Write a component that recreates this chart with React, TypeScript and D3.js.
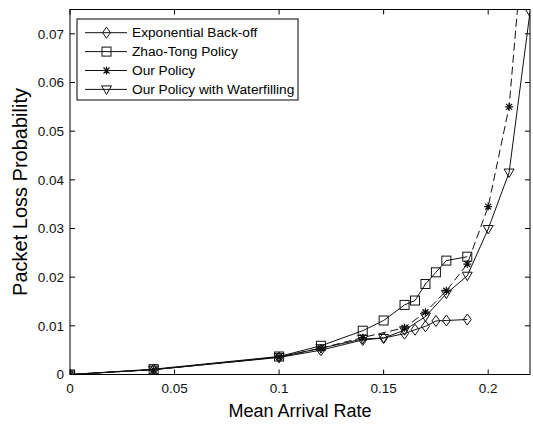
import * as d3 from "d3";

// chart size and plot box
const width = 533;
const height = 424;
const marginLeft = 70;
const marginRight = 3;
const marginTop = 9.5;
const marginBottom = 49.5;

// series
const xExp = [0, 0.04, 0.1, 0.12, 0.14, 0.15, 0.16, 0.165, 0.17, 0.175, 0.18, 0.19];
const yExp = [0, 0.001, 0.0035, 0.005, 0.0071, 0.0075, 0.0084, 0.0092, 0.0099, 0.011, 0.0111, 0.0113];

const xZhao = [0, 0.04, 0.1, 0.12, 0.14, 0.15, 0.16, 0.165, 0.17, 0.175, 0.18, 0.19];
const yZhao = [0, 0.0011, 0.0037, 0.0059, 0.009, 0.0111, 0.0143, 0.0152, 0.0186, 0.021, 0.0234, 0.0242];

const xOur = [0, 0.04, 0.1, 0.12, 0.14, 0.16, 0.17, 0.18, 0.19, 0.2, 0.21, 0.22];
const yOur = [0, 0.001, 0.0036, 0.0054, 0.0076, 0.0096, 0.0128, 0.0172, 0.0227, 0.0345, 0.055, 0.105];

const xWater = [0, 0.04, 0.1, 0.12, 0.14, 0.15, 0.16, 0.17, 0.18, 0.19, 0.2, 0.21, 0.22];
const yWater = [0, 0.001, 0.0036, 0.0054, 0.0073, 0.0075, 0.0091, 0.0119, 0.0166, 0.0203, 0.0299, 0.0415, 0.0745];

const xTicks = [0, 0.05, 0.1, 0.15, 0.2];
const xTickLabels = ["0", "0.05", "0.1", "0.15", "0.2"];
const yTicks = [0, 0.01, 0.02, 0.03, 0.04, 0.05, 0.06, 0.07];
const yTickLabels = ["0", "0.01", "0.02", "0.03", "0.04", "0.05", "0.06", "0.07"];

const legendLabels = [
  "Exponential Back-off",
  "Zhao-Tong Policy",
  "Our Policy",
  "Our Policy with Waterfilling",
];

const font = "'Liberation Sans', Arial, Helvetica, sans-serif";

const x = d3.scaleLinear().domain([0, 0.22]).range([marginLeft, width - marginRight]);
const y = d3.scaleLinear().domain([0, 0.075]).range([height - marginBottom, marginTop]);

type Kind = "diamond" | "square" | "star" | "tri";

const series: { xs: number[]; ys: number[]; kind: Kind; dash?: string }[] = [
  { xs: xExp, ys: yExp, kind: "diamond" },
  { xs: xZhao, ys: yZhao, kind: "square" },
  { xs: xOur, ys: yOur, kind: "star", dash: "8,4" },
  { xs: xWater, ys: yWater, kind: "tri" },
];

const Marker = ({ kind, cx, cy }: { kind: Kind; cx: number; cy: number }) => {
  const s = { fill: "none", stroke: "#111", strokeWidth: 1 };
  if (kind === "diamond")
    return <path d={`M${cx},${cy - 5.5}L${cx + 4},${cy}L${cx},${cy + 5.5}L${cx - 4},${cy}Z`} {...s} />;
  if (kind === "square") return <rect x={cx - 4.5} y={cy - 4.5} width={9} height={9} {...s} />;
  if (kind === "tri")
    return <path d={`M${cx - 5},${cy - 3.5}L${cx + 5},${cy - 3.5}L${cx},${cy + 5}Z`} {...s} />;
  return (
    <path
      d={`M${cx - 4},${cy}H${cx + 4}M${cx},${cy - 4}V${cy + 4}M${cx - 3},${cy - 3}L${cx + 3},${cy + 3}M${cx - 3},${cy + 3}L${cx + 3},${cy - 3}`}
      {...s}
      strokeWidth={1.2}
    />
  );
};

const App = () => {
  const line = d3.line<[number, number]>().x((d) => x(d[0])).y((d) => y(d[1]));
  const [x0, x1] = x.range();
  const [y0, y1] = y.range();

  return (
    <svg
      width={width}
      height={height}
      style={{ position: "absolute", left: 0, top: 0, background: "#fff" }}
      fontFamily={font}
    >
      <defs>
        <clipPath id="plot">
          <rect x={x0} y={y1} width={x1 - x0} height={y0 - y1} />
        </clipPath>
      </defs>

      {/* series */}
      <g clipPath="url(#plot)">
        {series.map((s, i) => (
          <g key={i}>
            <path
              d={line(s.xs.map((v, j) => [v, s.ys[j]] as [number, number])) || ""}
              fill="none"
              stroke="#111"
              strokeWidth={1}
              strokeDasharray={s.dash}
            />
            {s.xs.map((v, j) => (
              <Marker key={j} kind={s.kind} cx={x(v)} cy={y(s.ys[j])} />
            ))}
          </g>
        ))}
      </g>

      {/* box and ticks */}
      <rect x={x0} y={y1} width={x1 - x0} height={y0 - y1} fill="none" stroke="#000" strokeWidth={1} />
      {xTicks.map((t, i) => (
        <g key={i}>
          <line x1={x(t)} x2={x(t)} y1={y0} y2={y0 - 5} stroke="#000" />
          <line x1={x(t)} x2={x(t)} y1={y1} y2={y1 + 5} stroke="#000" />
          <text x={x(t)} y={y0 + 18} textAnchor="middle" fontSize={13.5} fill="#111">
            {xTickLabels[i]}
          </text>
        </g>
      ))}
      {yTicks.map((t, i) => (
        <g key={i}>
          <line x1={x0} x2={x0 + 5} y1={y(t)} y2={y(t)} stroke="#000" />
          <line x1={x1} x2={x1 - 5} y1={y(t)} y2={y(t)} stroke="#000" />
          <text x={x0 - 6} y={y(t)} dy="0.35em" textAnchor="end" fontSize={13.5} fill="#111">
            {yTickLabels[i]}
          </text>
        </g>
      ))}

      {/* axis titles */}
      <text x={(x0 + x1) / 2} y={417} textAnchor="middle" fontSize={18} fill="#000">
        Mean Arrival Rate
      </text>
      <text
        transform={`translate(27, ${(y0 + y1) / 2}) rotate(-90)`}
        textAnchor="middle"
        fontSize={20}
        fill="#000"
      >
        Packet Loss Probability
      </text>

      {/* legend */}
      <rect x={77} y={19} width={221} height={81} fill="#fff" stroke="#000" strokeWidth={1} />
      {legendLabels.map((lab, i) => {
        const ly = 32.7 + i * 18.9;
        return (
          <g key={i}>
            <line x1={85} x2={127} y1={ly} y2={ly} stroke="#111" />
            <Marker kind={series[i].kind} cx={106.5} cy={ly} />
            <text x={132} y={ly} dy="0.35em" fontSize={13.7} fill="#000">
              {lab}
            </text>
          </g>
        );
      })}
    </svg>
  );
};

export default App;
